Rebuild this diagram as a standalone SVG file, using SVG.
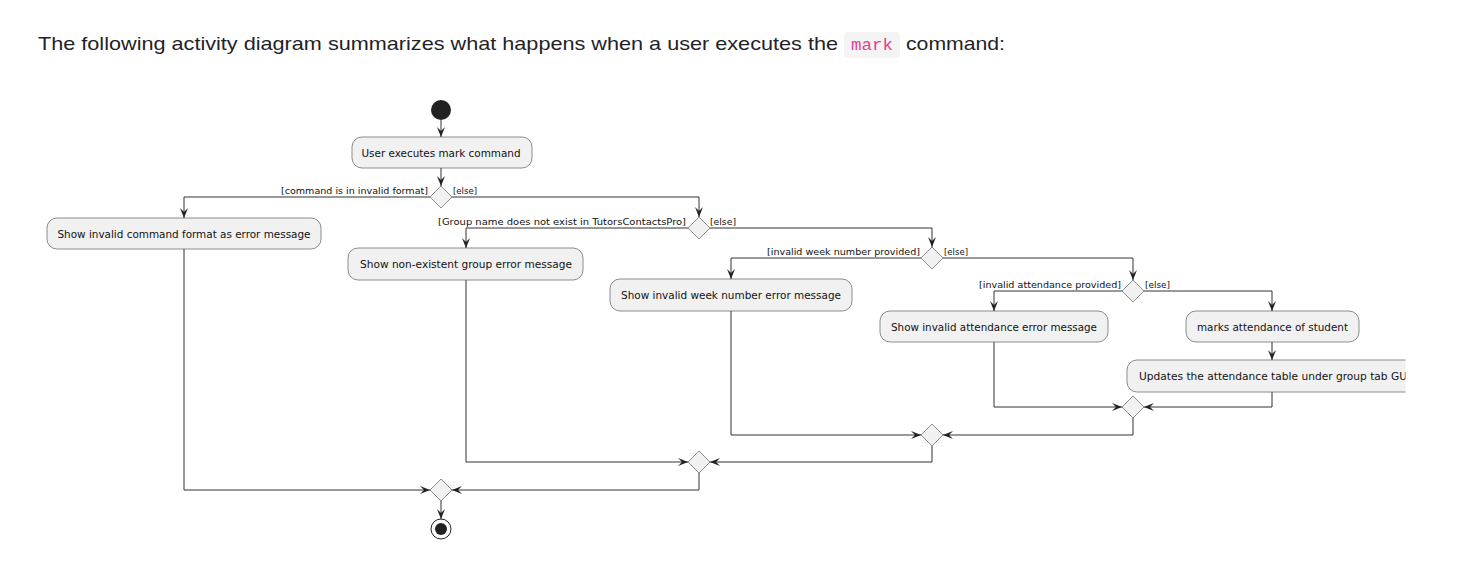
<svg xmlns="http://www.w3.org/2000/svg" width="1466" height="563" viewBox="0 0 1466 563">
<style>
.bg{fill:#ffffff}
.hdr{font-family:"Liberation Sans","Helvetica",Arial,sans-serif;font-size:18.5px;fill:#1f2328}
.code{font-family:"Liberation Mono","DejaVu Sans Mono",monospace;font-size:16px;fill:#e83e8c}
.act rect{fill:#f1f1f1;stroke:#8c8c8c;stroke-width:1}
.act text{font-family:"DejaVu Sans",Verdana,sans-serif;font-size:11px;fill:#111111}
.dia polygon{fill:#f1f1f1;stroke:#8c8c8c;stroke-width:1}
.lbl{font-family:"DejaVu Sans",Verdana,sans-serif;font-size:9.5px;fill:#111111}
.conn path{fill:none;stroke:#333333;stroke-width:1}
</style>
<defs>
<marker id="ah" viewBox="0 0 10 8" refX="10" refY="4" markerWidth="10" markerHeight="8" markerUnits="userSpaceOnUse" orient="auto">
<path d="M0,0 L10,4 L0,8 L4,4 Z" fill="#222222"/>
</marker>
<clipPath id="clipR"><rect x="0" y="0" width="1405.5" height="563"/></clipPath>
</defs>
<rect class="bg" x="0" y="0" width="1466" height="563"/>

<g id="header">
<text class="hdr" x="38" y="50" textLength="800" lengthAdjust="spacingAndGlyphs">The following activity diagram summarizes what happens when a user executes the</text>
<rect x="844" y="32" width="56" height="26" rx="4" fill="#f4f4f5"/>
<text class="code" x="851" y="50" textLength="42" lengthAdjust="spacingAndGlyphs">mark</text>
<text class="hdr" x="906" y="50" textLength="99" lengthAdjust="spacingAndGlyphs">command:</text>
</g>

<g id="start"><circle cx="441" cy="110" r="10" fill="#222222"/></g>

<g id="a1" class="act"><rect x="352" y="137" width="180" height="31" rx="10"/><text x="441" y="156.5" text-anchor="middle" textLength="159" lengthAdjust="spacingAndGlyphs">User executes mark command</text></g>

<g id="d1" class="dia"><polygon points="441,186 452,197 441,208 430,197"/></g>
<g id="a2" class="act"><rect x="47" y="218" width="274" height="31" rx="10"/><text x="184" y="237.5" text-anchor="middle" textLength="253" lengthAdjust="spacingAndGlyphs">Show invalid command format as error message</text></g>

<g id="d2" class="dia"><polygon points="699,217 710,228 699,239 688,228"/></g>
<g id="a3" class="act"><rect x="348" y="248" width="235" height="32" rx="10"/><text x="466" y="268" text-anchor="middle" textLength="212" lengthAdjust="spacingAndGlyphs">Show non-existent group error message</text></g>

<g id="d3" class="dia"><polygon points="932,247 943,258 932,269 921,258"/></g>
<g id="a4" class="act"><rect x="610" y="279" width="242" height="32" rx="10"/><text x="731" y="299" text-anchor="middle" textLength="220" lengthAdjust="spacingAndGlyphs">Show invalid week number error message</text></g>

<g id="d4" class="dia"><polygon points="1133,280 1144,291 1133,302 1122,291"/></g>
<g id="a5" class="act"><rect x="880" y="311" width="228" height="31" rx="10"/><text x="994" y="330.5" text-anchor="middle" textLength="206" lengthAdjust="spacingAndGlyphs">Show invalid attendance error message</text></g>
<g id="a6" class="act"><rect x="1186" y="311" width="173" height="31" rx="10"/><text x="1272.5" y="330.5" text-anchor="middle" textLength="151" lengthAdjust="spacingAndGlyphs">marks attendance of student</text></g>
<g id="a7" class="act" clip-path="url(#clipR)"><rect x="1127" y="360" width="300" height="32" rx="10"/><text x="1139" y="380" textLength="268" lengthAdjust="spacingAndGlyphs">Updates the attendance table under group tab GU</text></g>

<g id="m4" class="dia"><polygon points="1133,396 1144,407 1133,418 1122,407"/></g>
<g id="m3" class="dia"><polygon points="932,424 943,435 932,446 921,435"/></g>
<g id="m2" class="dia"><polygon points="699,451 710,462 699,473 688,462"/></g>
<g id="m1" class="dia"><polygon points="441,479 452,490 441,501 430,490"/></g>

<g id="end"><circle cx="441" cy="529" r="10" fill="none" stroke="#222222" stroke-width="1"/><circle cx="441" cy="529" r="6" fill="#222222"/></g>

<g id="connectors" class="conn">
<path d="M441,120 V137" marker-end="url(#ah)"/>
<path d="M441,168 V186" marker-end="url(#ah)"/>
<path d="M430,197 H184 V218" marker-end="url(#ah)"/>
<path d="M452,197 H699 V217" marker-end="url(#ah)"/>
<path d="M688,228 H466 V248" marker-end="url(#ah)"/>
<path d="M710,228 H932 V247" marker-end="url(#ah)"/>
<path d="M921,258 H731 V279" marker-end="url(#ah)"/>
<path d="M943,258 H1133 V280" marker-end="url(#ah)"/>
<path d="M1122,291 H994 V311" marker-end="url(#ah)"/>
<path d="M1144,291 H1272 V311" marker-end="url(#ah)"/>
<path d="M1272,342 V360" marker-end="url(#ah)"/>
<path d="M994,342 V407 H1122" marker-end="url(#ah)"/>
<path d="M1272,392 V407 H1144" marker-end="url(#ah)"/>
<path d="M1133,418 V435 H943" marker-end="url(#ah)"/>
<path d="M731,311 V435 H921" marker-end="url(#ah)"/>
<path d="M932,446 V462 H710" marker-end="url(#ah)"/>
<path d="M466,280 V462 H688" marker-end="url(#ah)"/>
<path d="M699,473 V490 H452" marker-end="url(#ah)"/>
<path d="M184,249 V490 H430" marker-end="url(#ah)"/>
<path d="M441,501 V519" marker-end="url(#ah)"/>
</g>

<g id="labels">
<text class="lbl" x="428" y="194" text-anchor="end" textLength="147" lengthAdjust="spacingAndGlyphs">[command is in invalid format]</text>
<text class="lbl" x="453" y="194" textLength="24" lengthAdjust="spacingAndGlyphs">[else]</text>
<text class="lbl" x="686" y="225" text-anchor="end" textLength="248" lengthAdjust="spacingAndGlyphs">[Group name does not exist in TutorsContactsPro]</text>
<text class="lbl" x="710" y="225" textLength="26" lengthAdjust="spacingAndGlyphs">[else]</text>
<text class="lbl" x="920" y="255" text-anchor="end" textLength="153" lengthAdjust="spacingAndGlyphs">[invalid week number provided]</text>
<text class="lbl" x="944" y="255" textLength="24" lengthAdjust="spacingAndGlyphs">[else]</text>
<text class="lbl" x="1121" y="288" text-anchor="end" textLength="142" lengthAdjust="spacingAndGlyphs">[invalid attendance provided]</text>
<text class="lbl" x="1145" y="288" textLength="25" lengthAdjust="spacingAndGlyphs">[else]</text>
</g>
</svg>
